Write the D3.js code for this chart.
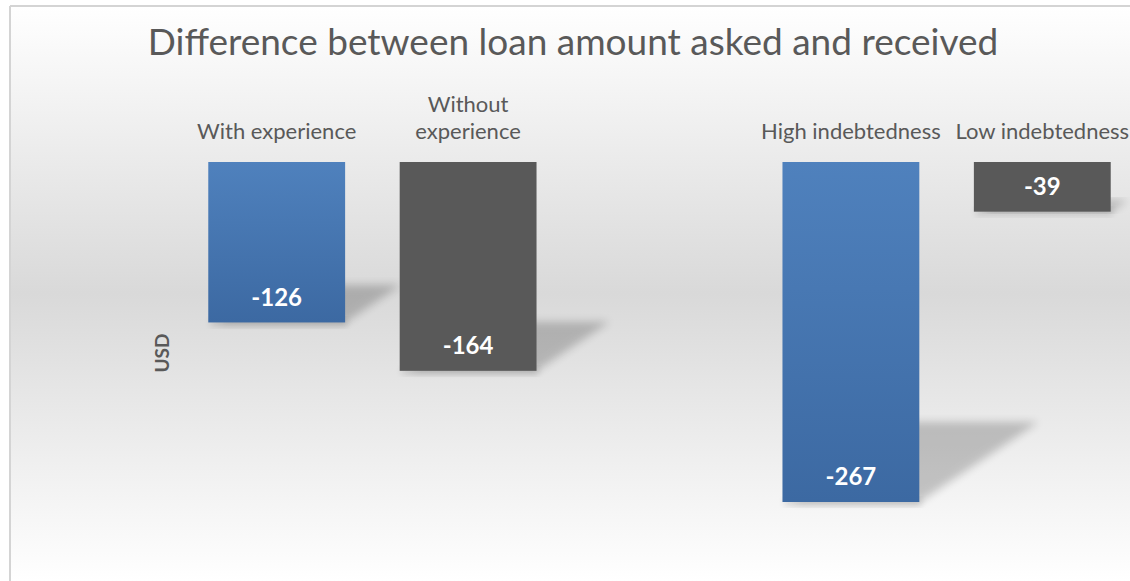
<!DOCTYPE html>
<html>
<head>
<meta charset="utf-8">
<script src="https://cdn.jsdelivr.net/npm/d3@7"></script>
<style>
  body { margin: 0; background: #fff; }
  svg { display: block; }
</style>
</head>
<body>
<svg id="chart" width="1130" height="581"></svg>
<script>
// data
const categories = ['With experience', 'Without experience', '', 'High indebtedness', 'Low indebtedness'];
const values = [-126, -164, null, -267, -39];
const labelLines = [['With experience'], ['Without', 'experience'], [], ['High indebtedness'], ['Low indebtedness']];
const barColors = ['blue', 'gray', null, 'blue', 'gray'];

const W = 1130, H = 581;
const svg = d3.select('#chart');
const defs = svg.append('defs');

const bg = defs.append('linearGradient').attr('id', 'bg').attr('x1', 0).attr('x2', 0).attr('y1', 0).attr('y2', 1);
bg.append('stop').attr('offset', '0%').attr('stop-color', '#ffffff');
bg.append('stop').attr('offset', '50%').attr('stop-color', '#d9d9d9');
bg.append('stop').attr('offset', '100%').attr('stop-color', '#ffffff');

const blueGrad = defs.append('linearGradient').attr('id', 'blueGrad').attr('x1', 0).attr('x2', 0).attr('y1', 0).attr('y2', 1);
blueGrad.append('stop').attr('offset', '0%').attr('stop-color', '#4f81bd');
blueGrad.append('stop').attr('offset', '100%').attr('stop-color', '#3c69a2');

defs.append('filter').attr('id', 'blur').attr('x', '-20%').attr('y', '-20%').attr('width', '140%').attr('height', '140%')
  .append('feGaussianBlur').attr('stdDeviation', 4);
defs.append('filter').attr('id', 'soft').attr('x', '-20%').attr('y', '-20%').attr('width', '140%').attr('height', '140%')
  .append('feGaussianBlur').attr('stdDeviation', 3);

svg.append('rect').attr('x', 10).attr('y', 6).attr('width', W - 10).attr('height', H - 6).attr('fill', 'url(#bg)');
svg.append('line').attr('x1', 10).attr('x2', 10).attr('y1', 6).attr('y2', H).attr('stroke', '#d4d4d4').attr('stroke-width', 2);
svg.append('line').attr('x1', 10).attr('x2', W).attr('y1', 6).attr('y2', 6).attr('stroke', '#d4d4d4').attr('stroke-width', 2);

const x = d3.scaleBand().domain(d3.range(categories.length)).range([181, 1138]).paddingInner(0.285).paddingOuter(0.1425);
const y = d3.scaleLinear().domain([0, -267]).range([162, 502]);

const fontFamily = 'Lato, "Open Sans", sans-serif';

svg.append('text')
  .attr('x', 573).attr('y', 55)
  .attr('text-anchor', 'middle')
  .attr('font-family', fontFamily)
  .attr('font-size', 37)
  .attr('fill', '#595959')
  .text('Difference between loan amount asked and received');

svg.append('text')
  .attr('transform', 'translate(169,353) rotate(-90)')
  .attr('text-anchor', 'middle')
  .attr('font-family', fontFamily)
  .attr('font-weight', 700)
  .attr('font-size', 19)
  .attr('fill', '#595959')
  .text('USD');

const idx = d3.range(categories.length).filter(i => values[i] !== null);

// perspective shadows
svg.append('g').selectAll('polygon').data(idx).join('polygon')
  .attr('points', i => {
    const x0 = x(i), x1 = x(i) + x.bandwidth();
    const yb = y(values[i]);
    const h = yb - y(0);
    const dx = 0.35 * h, dy = 0.235 * h;
    return [[x0 + 10, yb], [x1, yb], [x1 + dx, yb - dy], [x0 + dx, yb - dy]].map(p => p.join(',')).join(' ');
  })
  .attr('fill', '#000').attr('opacity', 0.2)
  .attr('filter', 'url(#blur)');

// soft shadow below bars
svg.append('g').selectAll('rect').data(idx).join('rect')
  .attr('x', i => x(i) + 2).attr('y', i => y(values[i]) - 4)
  .attr('width', x.bandwidth()).attr('height', 8)
  .attr('fill', '#000').attr('opacity', 0.12)
  .attr('filter', 'url(#soft)');

svg.append('g').selectAll('rect').data(idx).join('rect')
  .attr('x', i => x(i)).attr('y', y(0))
  .attr('width', x.bandwidth())
  .attr('height', i => y(values[i]) - y(0))
  .attr('fill', i => barColors[i] === 'blue' ? 'url(#blueGrad)' : '#595959');

svg.append('g').selectAll('text').data(idx).join('text')
  .attr('x', i => x(i) + x.bandwidth() / 2)
  .attr('y', i => y(values[i]) - 25)
  .attr('dy', '0.35em')
  .attr('text-anchor', 'middle')
  .attr('font-family', fontFamily)
  .attr('font-weight', 700)
  .attr('font-size', 24)
  .attr('fill', '#ffffff')
  .text(i => String(values[i]));

// category labels above bars
const lab = svg.append('g').selectAll('text').data(idx).join('text')
  .attr('x', i => x(i) + x.bandwidth() / 2)
  .attr('y', 139)
  .attr('text-anchor', 'middle')
  .attr('font-family', fontFamily)
  .attr('font-size', 22)
  .attr('fill', '#595959');
lab.each(function(i) {
  const lines = labelLines[i];
  d3.select(this).selectAll('tspan').data(lines).join('tspan')
    .attr('x', x(i) + x.bandwidth() / 2)
    .attr('dy', (d, k) => k === 0 ? -(lines.length - 1) * 27 : 27)
    .text(d => d);
});
</script>
</body>
</html>
